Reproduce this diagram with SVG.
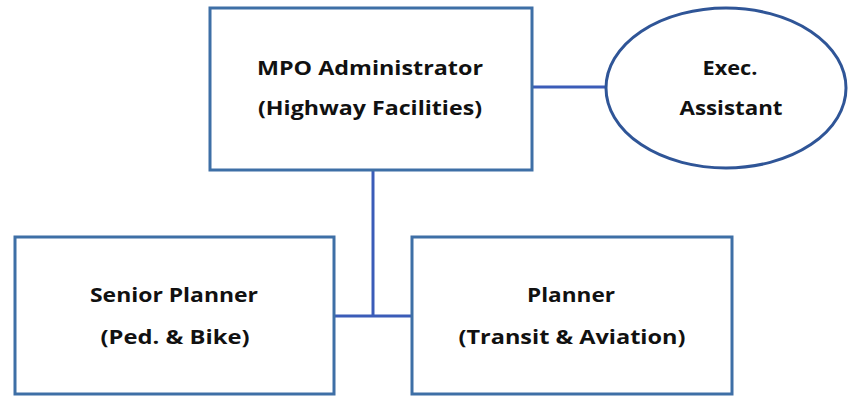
<svg xmlns="http://www.w3.org/2000/svg" width="851" height="397" viewBox="0 0 851 397">
<style>
.box{fill:#ffffff;stroke:#3e6fa6;stroke-width:3}
.ell{fill:#ffffff;stroke:#2f5597;stroke-width:3}
.conn{fill:none;stroke:#3b5cb8;stroke-width:3}
text{font-family:"Open Sans","Liberation Sans",sans-serif;font-weight:700;font-size:19px;fill:#111111;text-anchor:middle}
</style>
<rect width="851" height="397" fill="#ffffff"/>
<g id="connectors">
<line class="conn" x1="532" y1="87" x2="606" y2="87"/>
<line class="conn" x1="373" y1="170" x2="373" y2="316"/>
<line class="conn" x1="334" y1="316" x2="412" y2="316"/>
</g>
<g id="mpo-admin">
<rect class="box" x="210" y="8" width="322" height="162"/>
<text x="370" y="75" textLength="226" lengthAdjust="spacingAndGlyphs">MPO Administrator</text>
<text x="370" y="115" textLength="224" lengthAdjust="spacingAndGlyphs">(Highway Facilities)</text>
</g>
<g id="exec-assistant">
<ellipse class="ell" cx="726" cy="88" rx="120" ry="80"/>
<text x="730" y="75" textLength="55" lengthAdjust="spacingAndGlyphs">Exec.</text>
<text x="731" y="115" textLength="103" lengthAdjust="spacingAndGlyphs">Assistant</text>
</g>
<g id="senior-planner">
<rect class="box" x="15" y="237" width="319" height="157"/>
<text x="174" y="302" textLength="168" lengthAdjust="spacingAndGlyphs">Senior Planner</text>
<text x="175" y="344" textLength="149" lengthAdjust="spacingAndGlyphs">(Ped. &amp; Bike)</text>
</g>
<g id="planner">
<rect class="box" x="412" y="237" width="320" height="157"/>
<text x="571" y="302" textLength="88" lengthAdjust="spacingAndGlyphs">Planner</text>
<text x="572" y="344" textLength="227" lengthAdjust="spacingAndGlyphs">(Transit &amp; Aviation)</text>
</g>
</svg>
